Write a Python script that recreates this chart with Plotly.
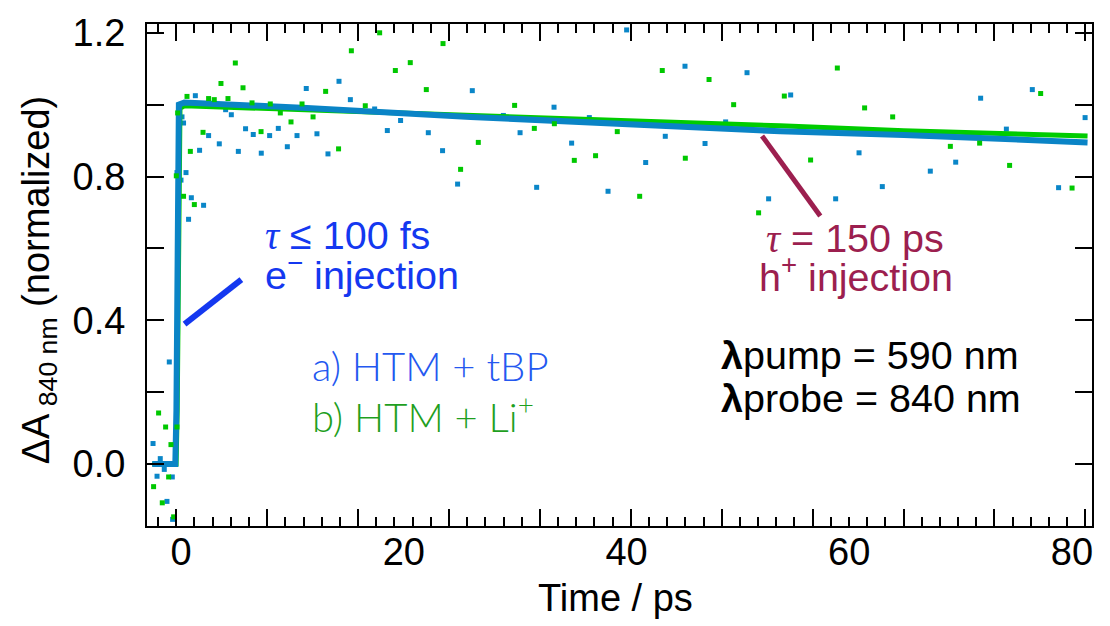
import plotly.graph_objects as go

# ---------------- data ----------------
green_t = [-2.47, -2.02, -1.69, -1.39, -1.12, -0.91, -0.67, -0.43, -0.37, -0.31,
           0.22, 0.53, 0.83, 1.19, 1.97, 2.47, 2.98, 3.58, 4.21, 4.87,
           5.56, 6.37, 7.18, 8.01, 8.91, 9.87, 10.86, 11.85, 12.98, 14.14,
           15.29, 16.54, 17.83, 19.24, 20.58, 22.02, 23.52, 25.10, 26.69, 29.95,
           31.72, 33.52, 35.31, 37.22, 39.17, 41.18, 43.21, 45.28, 47.41, 49.62,
           51.86, 54.17, 56.53, 58.93, 61.38, 63.90, 69.08, 71.71, 74.40, 77.19,
           80.01]
green_v = [-0.063, 0.142, -0.108, 0.103, -0.036, 0.054, -0.147, 0.802, 0.103, 0.977,
           0.745, 1.023, 0.870, 0.722, 0.923, 1.017, 1.014, 1.059, 1.017, 1.116,
           1.047, 1.005, 0.925, 1.002, 0.977, 0.952, 1.002, 0.966, 1.037, 0.877,
           1.150, 0.997, 1.200, 1.095, 1.117, 1.042, 1.170, 0.820, 0.895, 0.998,
           0.934, 0.947, 0.845, 0.858, 0.925, 0.745, 1.095, 0.851, 1.070, 1.000,
           0.699, 1.024, 0.846, 1.102, 0.991, 0.966, 0.884, 0.893, 0.831, 1.031,
           0.768]

blue_t = [-2.52, -2.16, -1.87, -1.51, -1.27, -1.06, -0.79, -0.76, -0.37, -0.01,
          0.08, 0.22, 0.44, 0.67, 0.92, 1.28, 1.66, 2.02, 2.47, 3.43,
          4.00, 4.51, 5.14, 5.79, 6.48, 7.20, 7.95, 8.73, 9.54, 10.41,
          11.24, 12.20, 13.19, 14.18, 15.20, 17.38, 18.52, 19.71, 22.20, 23.48,
          24.83, 26.15, 28.94, 30.44, 31.93, 33.49, 35.07, 36.66, 38.34, 40.01,
          41.72, 43.48, 45.25, 47.05, 48.90, 50.82, 52.76, 54.74, 58.78, 60.88,
          62.97, 65.04, 67.28, 69.56, 71.80, 74.11, 76.44, 78.80, 81.18]
blue_v = [0.057, -0.034, 0.015, -0.015, -0.104, 0.284, -0.036, -0.154, 0.811, 0.790,
          0.966, 0.949, 0.811, 0.681, 0.741, 1.025, 0.873, 0.720, 0.914, 0.891,
          0.986, 0.972, 0.870, 0.933, 0.917, 0.865, 0.914, 0.934, 0.883, 0.914,
          1.045, 0.919, 0.863, 1.065, 1.014, 0.988, 0.928, 0.956, 0.922, 0.872,
          0.779, 1.039, 0.970, 0.922, 0.770, 0.993, 0.893, 0.964, 0.759, 1.208,
          0.839, 0.912, 1.107, 0.892, 0.952, 1.089, 0.738, 1.027, 0.738, 0.866,
          0.772, 0.917, 0.815, 0.840, 1.018, 0.932, 1.042, 0.769, 0.964]

# fitted curves
blue_fit_t = [-2.59, -0.52, -0.42, -0.30, -0.20, 0.30, 11.3, 26.0, 39.4, 53.8, 64.9, 81.4]
blue_fit_v = [0.0, 0.0, 0.15, 0.80, 1.000, 1.006, 0.991, 0.966, 0.945, 0.926, 0.9155, 0.895]
green_fit_t = [-2.59, -0.45, -0.35, -0.20, -0.10, 0.30, 11.3, 25.1, 39.4, 53.8, 64.9, 81.4]
green_fit_v = [0.0, 0.0, 0.15, 0.80, 0.990, 0.997, 0.986, 0.973, 0.957, 0.941, 0.9275, 0.913]

x_label_vals = [0, 20, 40, 60, 80]
y_label_vals = [0.0, 0.4, 0.8, 1.2]
y_label_text = ["0.0", "0.4", "0.8", "1.2"]

# ---------------- styling ----------------
C_BLUE_PT = "#0a86c8"
C_GREEN_PT = "#00c800"
C_BLUE_FIT = "#0a84c6"
C_GREEN_FIT = "#00cc00"
C_TXT_BLUE = "#1438f0"
C_LEG_BLUE = "#2458f0"
C_LEG_GREEN = "#1f9f1f"
C_MAROON = "#9c1f4f"
FONT = "Liberation Sans, Arial, Helvetica, sans-serif"
LIGHT_FONT = "Lato, Liberation Sans, sans-serif"
FS = 38
FA = 39.5

XR = [-3.062, 81.80]
YR = [-0.1725, 1.2245]

fig = go.Figure()
fig.add_trace(go.Scatter(x=blue_t, y=blue_v, mode="markers",
                         marker=dict(symbol="square", size=5, color=C_BLUE_PT, line=dict(width=0)),
                         showlegend=False, hoverinfo="skip"))
fig.add_trace(go.Scatter(x=green_t, y=green_v, mode="markers", xaxis="x2",
                         marker=dict(symbol="square", size=5, color=C_GREEN_PT, line=dict(width=0)),
                         showlegend=False, hoverinfo="skip"))
fig.add_trace(go.Scatter(x=green_fit_t, y=green_fit_v, mode="lines",
                         line=dict(color=C_GREEN_FIT, width=5), showlegend=False, hoverinfo="skip"))
fig.add_trace(go.Scatter(x=blue_fit_t, y=blue_fit_v, mode="lines",
                         line=dict(color=C_BLUE_FIT, width=6), showlegend=False, hoverinfo="skip"))

axis_common = dict(showgrid=False, zeroline=False, linewidth=2, linecolor="black")

fig.update_layout(
    width=1110, height=626,
    margin=dict(l=147, r=18, t=13, b=100),
    paper_bgcolor="white", plot_bgcolor="white",
    font=dict(family=FONT, size=FS, color="black"),
    # tick-mark axis (major + minor marks, no labels)
    xaxis=dict(range=XR, showticklabels=False,
               tickmode="linear", tick0=-0.43, dtick=8.163,
               ticks="inside", ticklen=17, tickwidth=2, tickcolor="black",
               minor=dict(tickmode="linear", tick0=-0.43, dtick=1.6327, ticks="inside",
                          ticklen=9, tickwidth=2, tickcolor="black"),
               mirror="ticks", showline=True, **axis_common),
    # label axis (numbers only)
    xaxis2=dict(range=XR, overlaying="x", matches="x", anchor="y", side="bottom",
                tickmode="array", tickvals=x_label_vals,
                ticktext=[str(v) for v in x_label_vals], ticks="",
                showline=False, tickfont=dict(size=FS), **axis_common),
    yaxis=dict(range=YR, tickmode="array", tickvals=y_label_vals, ticktext=y_label_text,
               ticks="inside", ticklen=17, tickwidth=2, tickcolor="black",
               minor=dict(tickmode="linear", tick0=0.0, dtick=0.2, ticks="inside",
                          ticklen=17, tickwidth=2, tickcolor="black"),
               mirror="ticks", showline=True, tickfont=dict(size=FS), ticklabelstandoff=12,
               **axis_common),
)

tau = "<span style=\"font-family:'Liberation Serif', serif\"><i>τ</i></span>"

annos = [
    dict(x=7.38, y=0.637, text=tau + " ≤ 100 fs", color=C_TXT_BLUE, fam=FONT, w=400, s=FA),
    dict(x=7.38, y=0.533, text="e<sup>−</sup> injection", color=C_TXT_BLUE, fam=FONT, w=400, s=FA),
    dict(x=52.3, y=0.627, text=tau + " = 150 ps", color=C_MAROON, fam=FONT, w=400, s=FA),
    dict(x=51.75, y=0.530, text="h<sup>+</sup> injection", color=C_MAROON, fam=FONT, w=400, s=FA),
    dict(x=11.6, y=0.272, text="a) HTM + tBP", color=C_LEG_BLUE, fam=LIGHT_FONT, w=300, s=40),
    dict(x=11.6, y=0.140, text="b) HTM + Li<sup>+</sup>", color=C_LEG_GREEN, fam=LIGHT_FONT, w=300, s=40),
    dict(x=48.3, y=0.302, text="<b>λ</b>pump = 590 nm", color="black", fam=FONT, w=400, s=FA),
    dict(x=48.3, y=0.184, text="<b>λ</b>probe = 840 nm", color="black", fam=FONT, w=400, s=FA),
]
for a in annos:
    fig.add_annotation(x=a["x"], y=a["y"], xref="x", yref="y", text=a["text"],
                       showarrow=False, xanchor="left", yanchor="middle",
                       font=dict(family=a["fam"], size=a["s"], color=a["color"], weight=a["w"]))

# axis titles
fig.add_annotation(x=0.4956, y=-0.1443, xref="paper", yref="paper", text="Time / ps",
                   showarrow=False, xanchor="center", yanchor="middle",
                   font=dict(family=FONT, size=FS, color="black"))
fig.add_annotation(x=-0.114, y=0.49, xref="paper", yref="paper",
                   text="ΔA<sub> 840 nm</sub> (normalized)", textangle=-90,
                   showarrow=False, xanchor="center", yanchor="middle",
                   font=dict(family=FONT, size=FS, color="black"))

# pointer lines
fig.add_shape(type="line", xref="x", yref="y", x0=0.31, y0=0.389, x1=5.41, y1=0.513,
              line=dict(color=C_TXT_BLUE, width=6))
fig.add_shape(type="line", xref="x", yref="y", x0=52.17, y0=0.913, x1=57.4, y1=0.690,
              line=dict(color=C_MAROON, width=5))

fig.write_html("out.html")
